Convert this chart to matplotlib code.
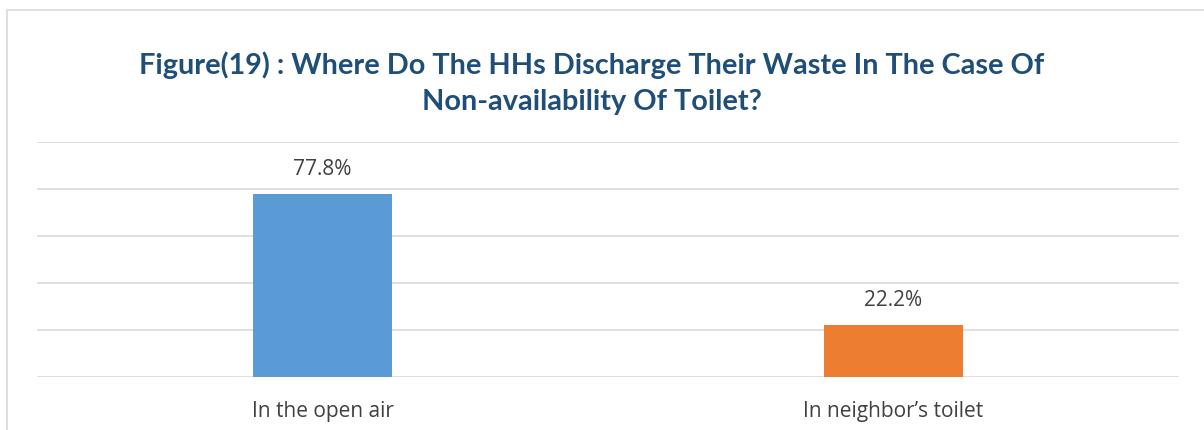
import matplotlib.pyplot as plt
from matplotlib.patches import Rectangle

# data
categories = ["In the open air", "In neighbor\u2019s toilet"]
shares = [77.8, 22.2]
bar_colors = ["#5B9BD5", "#ED7D31"]
title = "Figure(19) : Where Do The HHs Discharge Their Waste In The Case Of\nNon-availability Of Toilet?"

W, H = 1204, 430
fig = plt.figure(figsize=(W / 100, H / 100), dpi=100)

# chart area frame (light grey, as in the word document)
fig.add_artist(Rectangle((7 / W, -0.01), 1.2, 1 - 10 / H + 0.01, transform=fig.transFigure,
                         fill=False, edgecolor="#D9D9D9", linewidth=1.2))

ax = fig.add_axes([37 / W, 1 - 377 / H, (1179 - 37) / W, (377 - 142) / H])
x = range(len(categories))
bars = ax.bar(x, shares, width=0.242, color=bar_colors, zorder=3)

ax.set_xlim(-0.5, 1.5)
ax.set_ylim(0, 100)
ax.set_yticks([0, 20, 40, 60, 80, 100])
ax.yaxis.grid(True, color="#D9D9D9", linewidth=1.2, zorder=0)
ax.tick_params(axis="y", left=False, labelleft=False)
ax.tick_params(axis="x", bottom=False, pad=14)
ax.set_xticks(list(x))
ax.set_xticklabels(categories, fontsize=15, color="#404040", family="Open Sans")
for s in ax.spines.values():
    s.set_visible(False)

for b, v in zip(bars, shares):
    ax.annotate(f"{v:.1f}%", (b.get_x() + b.get_width() / 2, v), xytext=(0, 10),
                textcoords="offset points", ha="center", va="bottom",
                fontsize=15, color="#404040", family="Open Sans")

fig.text(592 / W, 1 - 83 / H, title, ha="center", va="center", fontsize=20.8,
         fontweight="bold", color="#1F4E79", family="Lato", linespacing=1.45)

fig.savefig("out.png", dpi=100)
